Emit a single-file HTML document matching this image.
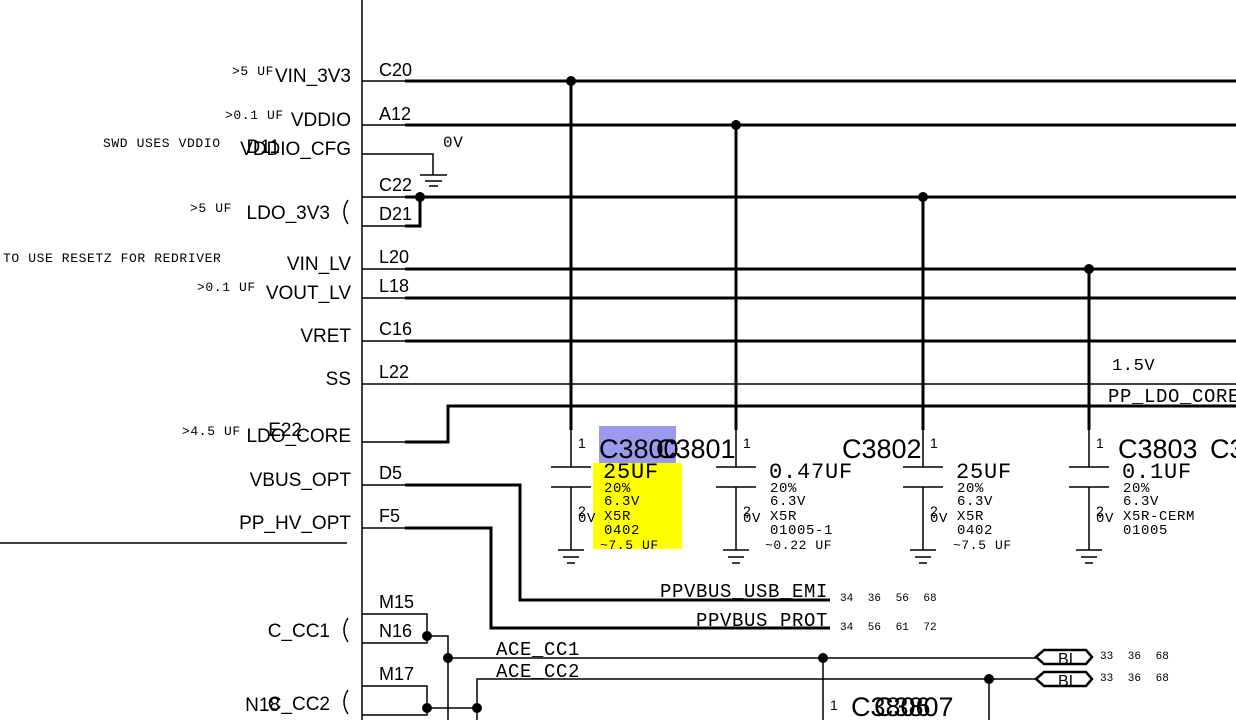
<!DOCTYPE html>
<html><head><meta charset="utf-8"><style>
html,body{margin:0;padding:0;background:#fff;overflow:hidden}
svg{display:block}
.s{font-family:"Liberation Sans",sans-serif;fill:#000}
.m{font-family:"Liberation Mono",monospace;fill:#000}
</style></head><body>
<svg width="1236" height="720" viewBox="0 0 1236 720" xmlns="http://www.w3.org/2000/svg">
<g stroke="#000" fill="none">
<line x1="362" y1="0" x2="362" y2="720" stroke-width="1.5"/>
<line x1="0" y1="543" x2="347" y2="543" stroke-width="1.5"/>
<g stroke-width="1.5">
<line x1="362" y1="81" x2="405" y2="81"/><line x1="362" y1="125" x2="405" y2="125"/>
<polyline points="362,154 433,154 433,175"/>
<line x1="420" y1="175" x2="447" y2="175"/><line x1="425" y1="181" x2="442" y2="181"/><line x1="429" y1="186" x2="438" y2="186"/>
<line x1="362" y1="197" x2="405" y2="197"/><line x1="362" y1="226" x2="405" y2="226"/>
<line x1="362" y1="269" x2="405" y2="269"/><line x1="362" y1="298" x2="405" y2="298"/>
<line x1="362" y1="341" x2="405" y2="341"/>
<line x1="362" y1="384" x2="1236" y2="384"/>
<line x1="362" y1="442" x2="405" y2="442"/>
<line x1="362" y1="485" x2="405" y2="485"/><line x1="362" y1="528" x2="405" y2="528"/>
<polyline points="362,614 427,614 427,643 362,643"/>
<polyline points="362,686 427,686 427,715 362,715"/>
<polyline points="427,636 448,636 448,720"/>
<line x1="448" y1="658" x2="1040" y2="658"/>
<polyline points="427,708 477,708"/>
<polyline points="477,720 477,679 1040,679"/>
<line x1="823" y1="658" x2="823" y2="720"/>
<line x1="989" y1="679" x2="989" y2="720"/>
</g>
<g stroke-width="3">
<line x1="405" y1="81" x2="1236" y2="81"/><line x1="405" y1="125" x2="1236" y2="125"/>
<line x1="405" y1="197" x2="1236" y2="197"/>
<polyline points="405,226 420,226 420,197"/>
<line x1="405" y1="269" x2="1236" y2="269"/><line x1="405" y1="298" x2="1236" y2="298"/>
<line x1="405" y1="341" x2="1236" y2="341"/>
<polyline points="405,442 448,442 448,406 1236,406"/>
<polyline points="405,485 520,485 520,600 830,600"/>
<polyline points="405,528 491,528 491,628 830,628"/>
<line x1="571" y1="81" x2="571" y2="430"/><line x1="736" y1="125" x2="736" y2="430"/>
<line x1="923" y1="197" x2="923" y2="430"/><line x1="1089" y1="269" x2="1089" y2="430"/>
</g>
<g stroke-width="1.5">
<g id="cap"><line x1="571" y1="430" x2="571" y2="467"/><line x1="551" y1="467" x2="591" y2="467"/><line x1="551" y1="487" x2="591" y2="487"/><line x1="571" y1="487" x2="571" y2="550"/><line x1="558" y1="550" x2="584" y2="550"/><line x1="563" y1="557" x2="579" y2="557"/><line x1="567" y1="563" x2="575" y2="563"/></g>
<use href="#cap" x="165"/><use href="#cap" x="352"/><use href="#cap" x="518"/>
</g>
<g stroke-width="2.5" fill="#fff">
<polygon points="1036,657 1044,650 1086,650 1092,657 1086,664 1044,664"/>
<polygon points="1036,679 1044,672 1086,672 1092,679 1086,686 1044,686"/>
</g>
<path d="M348,200 Q340,212 348,224 M348,618 Q340,630 348,642 M348,690 Q340,702 348,714" stroke-width="1.5"/>
</g>
<g fill="#000">
<circle cx="571" cy="81" r="5"/><circle cx="736" cy="125" r="5"/><circle cx="923" cy="197" r="5"/><circle cx="1089" cy="269" r="5"/>
<circle cx="420" cy="197" r="5"/><circle cx="427" cy="636" r="5"/><circle cx="448" cy="658" r="5"/>
<circle cx="427" cy="708" r="5"/><circle cx="477" cy="708" r="5"/><circle cx="823" cy="658" r="5"/><circle cx="989" cy="679" r="5"/>
</g>
<rect x="599" y="426" width="77" height="39" fill="#9a9aee"/>
<rect x="593" y="463" width="89" height="86" fill="#ffff00"/>
<g class="s" font-size="19" text-anchor="end">
<text x="351" y="82">VIN_3V3</text><text x="351" y="126">VDDIO</text><text x="351" y="155">VDDIO_CFG</text>
<text x="330" y="219">LDO_3V3</text><text x="351" y="270">VIN_LV</text><text x="351" y="299">VOUT_LV</text>
<text x="351" y="342">VRET</text><text x="351" y="385">SS</text><text x="351" y="442">LDO_CORE</text>
<text x="351" y="486">VBUS_OPT</text><text x="351" y="529">PP_HV_OPT</text>
<text x="330" y="637">C_CC1</text><text x="330" y="710">C_CC2</text>
<text x="280" y="153">D11</text><text x="302" y="436">E22</text><text x="280" y="711">N18</text>
</g>
<g class="s" font-size="18">
<text x="379" y="76">C20</text><text x="379" y="120">A12</text><text x="379" y="191">C22</text><text x="379" y="220">D21</text>
<text x="379" y="263">L20</text><text x="379" y="292">L18</text><text x="379" y="335">C16</text><text x="379" y="378">L22</text>
<text x="379" y="479">D5</text><text x="379" y="522">F5</text><text x="379" y="608">M15</text><text x="379" y="637">N16</text><text x="379" y="680">M17</text>
</g>
<g class="s" font-size="14">
<text x="578" y="448">1</text><text x="743" y="448">1</text><text x="930" y="448">1</text><text x="1096" y="448">1</text>
<text x="578" y="516">2</text><text x="743" y="516">2</text><text x="930" y="516">2</text><text x="1096" y="516">2</text>
<text x="830" y="710">1</text>
<text x="1058" y="664" font-size="16">BI</text><text x="1058" y="686" font-size="16">BI</text>
</g>
<g class="s" font-size="27">
<text x="599" y="458">C3800</text><text x="656" y="458">C3801</text><text x="842" y="458">C3802</text>
<text x="1118" y="458">C3803</text><text x="1210" y="458">C3</text>
<text x="851" y="716">C3806</text><text x="874" y="716">C3807</text>
</g>
<g class="m" font-size="22" letter-spacing="0.8">
<text x="603" y="478">25UF</text><text x="769" y="478">0.47UF</text><text x="956" y="478">25UF</text><text x="1122" y="478">0.1UF</text>
</g>
<g class="m" font-size="14" letter-spacing="0.6">
<text x="578" y="522">0V</text><text x="743" y="522">0V</text><text x="930" y="522">0V</text><text x="1096" y="522">0V</text>
<text x="604" y="492">20%</text><text x="604" y="505">6.3V</text><text x="604" y="520">X5R</text><text x="604" y="534">0402</text><text x="600" y="549" font-size="13">~7.5 UF</text>
<text x="770" y="492">20%</text><text x="770" y="505">6.3V</text><text x="770" y="520">X5R</text><text x="770" y="534">01005-1</text><text x="765" y="549" font-size="13">~0.22 UF</text>
<text x="957" y="492">20%</text><text x="957" y="505">6.3V</text><text x="957" y="520">X5R</text><text x="957" y="534">0402</text><text x="953" y="549" font-size="13">~7.5 UF</text>
<text x="1123" y="492">20%</text><text x="1123" y="505">6.3V</text><text x="1123" y="520">X5R-CERM</text><text x="1123" y="534">01005</text>
<text x="443" y="147" font-size="16">0V</text>
<text x="1112" y="370" font-size="17">1.5V</text>
<text x="1108" y="402" font-size="19">PP_LDO_CORE</text>
<text x="828" y="597" font-size="19" text-anchor="end">PPVBUS_USB_EMI</text>
<text x="828" y="626" font-size="19" text-anchor="end">PPVBUS_PROT</text>
<text x="496" y="655" font-size="19">ACE_CC1</text><text x="496" y="677" font-size="19">ACE_CC2</text>
<text x="232" y="75" font-size="13">&gt;5 UF</text><text x="225" y="119" font-size="13">&gt;0.1 UF</text>
<text x="103" y="147" font-size="13">SWD USES VDDIO</text><text x="190" y="212" font-size="13">&gt;5 UF</text>
<text x="3" y="262" font-size="13">TO USE RESETZ FOR REDRIVER</text><text x="197" y="291" font-size="13">&gt;0.1 UF</text>
<text x="182" y="435" font-size="13">&gt;4.5 UF</text>
</g>
<g class="m" font-size="11" word-spacing="8">
<text x="840" y="601">34 36 56 68</text><text x="840" y="630">34 56 61 72</text>
<text x="1100" y="659">33 36 68</text><text x="1100" y="681">33 36 68</text>
</g>
</svg>
</body></html>
